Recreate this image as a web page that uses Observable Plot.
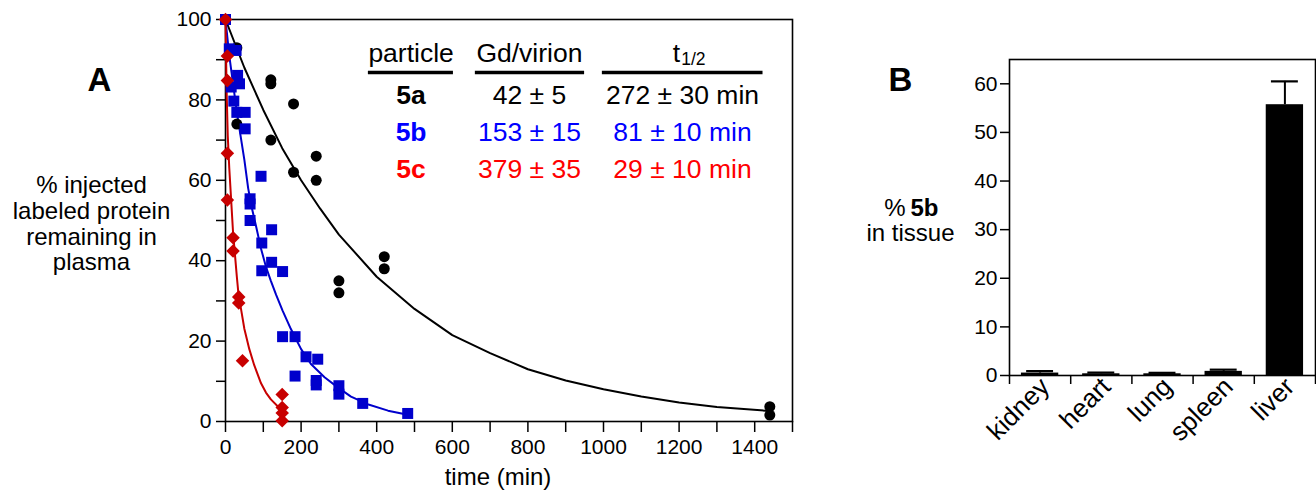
<!DOCTYPE html>
<html><head><meta charset="utf-8">
<script src="https://cdn.jsdelivr.net/npm/d3@7"></script>
<script src="https://cdn.jsdelivr.net/npm/@observablehq/plot@0.6"></script>
<style>
body{margin:0;background:#fff;}
#wrap{position:relative;width:1316px;height:491px;overflow:hidden;background:#fff;}
#a{position:absolute;left:0;top:0;}
#b{position:absolute;left:850px;top:0;}
</style></head><body><div id="wrap"><div id="a"></div><div id="b"></div></div>
<script>
// ---------- Panel A data ----------
// 5a (black circles)
const time5a = [0, 30, 30, 120, 120, 120, 180, 180, 240, 240, 300, 300, 420, 420, 1440, 1440];
const pct5a  = [100, 93, 74, 85, 84, 70, 79, 62, 66, 60, 35, 32, 41, 38, 3.7, 1.6];
// 5b (blue squares)
const time5b = [0, 10, 28, 32, 37, 15, 22, 30, 52, 52, 94, 65, 65, 65, 122, 96, 122, 96, 151, 151, 184, 213, 244, 184, 240, 240, 300, 300, 363, 482];
const pct5b  = [100, 92.7, 92.3, 86.1, 84.0, 83.2, 79.7, 76.9, 76.9, 72.8, 61.0, 55.4, 54.1, 50.0, 47.7, 44.4, 39.6, 37.5, 37.3, 21.1, 21.1, 16.1, 15.5, 11.3, 10.2, 9.1, 8.9, 6.8, 4.5, 2.0];
// 5c (red diamonds)
const time5c = [0, 5, 5, 5, 5, 20, 20, 35, 35, 45, 150, 150, 150, 150];
const pct5c  = [100, 90.9, 84.8, 66.7, 55.1, 45.7, 42.4, 31, 29.5, 15.1, 6.7, 3.5, 2.1, 0.2];
// fitted curves
const fitTime5a = [0, 50, 100, 150, 200, 250, 300, 400, 500, 600, 700, 800, 900, 1000, 1100, 1200, 1300, 1440];
const fitPct5a  = [100, 88, 77.5, 68, 60, 53, 46.5, 36, 28, 21.5, 17, 13, 10.2, 8, 6.2, 4.7, 3.6, 2.6];
const fitTime5b = [0, 10, 20, 30, 40, 50, 60, 70, 81, 94, 107, 120, 134, 151, 173, 200, 226, 262, 297, 332, 376, 430, 482];
const fitPct5b  = [100, 91, 84, 77, 71, 65, 58, 53, 48.5, 43, 38.5, 35, 31.5, 27.6, 23, 18, 14.3, 11, 8.5, 6.2, 4.3, 2.7, 1.7];
const fitTime5c = [0, 3, 6, 10, 15, 20, 25, 30, 35, 41, 50, 63, 76, 94, 107, 120, 138, 151];
const fitPct5c  = [100, 82, 71, 63, 55, 47, 41.5, 36, 31, 28, 23, 18, 14, 9.5, 7.2, 5.5, 3.8, 2.7];
const xTicksA = d3.range(0, 1501, 100);
const yTicksA = d3.range(0, 101, 10);
// table
const particles = ["5a", "5b", "5c"];
const gdPerVirion = ["42 ± 5", "153 ± 15", "379 ± 35"];
const halfLives = ["272 ± 30 min", "81 ± 10 min", "29 ± 10 min"];
const tableHeaders = ["particle", "Gd/virion"];

// ---------- Panel B data ----------
const tissues = ["kidney", "heart", "lung", "spleen", "liver"];
const tissuePct = [0.5, 0.35, 0.35, 0.85, 55.7];
const tissueErr = [0.4, 0.25, 0.2, 0.35, 4.8];
const yTicksB = d3.range(0, 61, 10);

// ---------- styles ----------
const FONT = '"Liberation Sans", Arial, Helvetica, sans-serif';
const C_BLACK = "#000000", C_BLUE = "#0000cc", C_RED = "#c80000";
const textColors = ["#000000", "#0000ff", "#ff0000"];
const TF = 26.5; // table font size

const zip = (xs, ys) => xs.map((x, i) => ({x, y: ys[i]}));
const d5a = zip(time5a, pct5a), d5b = zip(time5b, pct5b), d5c = zip(time5c, pct5c);
const f5a = zip(fitTime5a, fitPct5a), f5b = zip(fitTime5b, fitPct5b), f5c = zip(fitTime5c, fitPct5c);

// table layout (data units of panel A)
const colX = [491, 804, 1209];
const headerY = 91.5, ruleYv = 86.8, rowY0 = 81.1, rowStep = 9.2;
const underlines = [[378, 603], [661, 950], [997, 1422]];

const tableMarks = [];
tableHeaders.forEach((h, j) => tableMarks.push(
  Plot.text([h], {x: () => colX[j], y: () => headerY, fontSize: TF, fill: "black"})));
tableMarks.push(Plot.text(["t"], {x: () => 1203, y: () => headerY, textAnchor: "end", fontSize: TF, fill: "black"}));
tableMarks.push(Plot.text(["1/2"], {x: () => 1203, y: () => headerY, textAnchor: "start", dx: 1, dy: 6, fontSize: 17.5, fill: "black"}));
tableMarks.push(Plot.ruleY(underlines, {x1: d => d[0], x2: d => d[1], y: () => ruleYv, strokeWidth: 3.5, stroke: "black"}));
particles.forEach((p, i) => {
  const yy = rowY0 - i * rowStep;
  tableMarks.push(Plot.text([p], {x: () => colX[0], y: () => yy, fontSize: TF, fontWeight: "bold", fill: textColors[i]}));
  tableMarks.push(Plot.text([gdPerVirion[i]], {x: () => colX[1], y: () => yy, fontSize: TF, fill: textColors[i]}));
  tableMarks.push(Plot.text([halfLives[i]], {x: () => colX[2], y: () => yy, fontSize: TF, fill: textColors[i]}));
});

const plotA = Plot.plot({
  width: 830, height: 491,
  marginLeft: 225, marginRight: 38, marginTop: 19, marginBottom: 70,
  style: {fontFamily: FONT, fontSize: "21px", color: "black", background: "white", overflow: "visible"},
  x: {domain: [0, 1500]},
  y: {domain: [0, 100]},
  marks: [
    Plot.axisX({ticks: xTicksA, tickSize: 11, tickPadding: 7, strokeWidth: 1.5, fontSize: 21, label: null,
      tickFormat: d => (d % 200 === 0 ? String(d) : "")}),
    Plot.axisY({ticks: yTicksA, tickSize: 9, tickPadding: 5, strokeWidth: 1.5, fontSize: 21, label: null,
      tickFormat: d => (d % 20 === 0 ? String(d) : "")}),
    Plot.frame({stroke: "black", strokeWidth: 1.6}),
    Plot.line(f5a, {x: "x", y: "y", stroke: C_BLACK, strokeWidth: 2}),
    Plot.line(f5b, {x: "x", y: "y", stroke: C_BLUE, strokeWidth: 2}),
    Plot.line(f5c, {x: "x", y: "y", stroke: C_RED, strokeWidth: 2}),
    Plot.dot(d5a, {x: "x", y: "y", r: 5.5, fill: C_BLACK, stroke: "none"}),
    Plot.dot(d5b, {x: "x", y: "y", r: 6.2, symbol: "square", fill: C_BLUE, stroke: "none"}),
    Plot.dot(d5c, {x: "x", y: "y", r: 6.1, symbol: "diamond2", fill: C_RED, stroke: "none"}),
    ...tableMarks,
    Plot.text(["A"], {frameAnchor: "top-left", textAnchor: "middle", lineAnchor: "middle", dx: -126, dy: 61, fontSize: 33, fontWeight: "bold", fill: "black"}),
    Plot.text(["% injected\nlabeled protein\nremaining in\nplasma"], {frameAnchor: "left", dx: -134, dy: 3, fontSize: 24, lineHeight: 1.07, textAnchor: "middle", lineAnchor: "middle", fill: "black"}),
    Plot.text(["time (min)"], {frameAnchor: "bottom", textAnchor: "middle", lineAnchor: "middle", dx: -11, dy: 56, fontSize: 24, fill: "black"})
  ]
});
document.getElementById("a").appendChild(plotA);

// ---------- Panel B ----------
const dB = tissues.map((name, i) => ({i, name, v: tissuePct[i], e: tissueErr[i]}));
const plotB = Plot.plot({
  width: 466, height: 491,
  marginLeft: 159, marginRight: 1, marginTop: 59, marginBottom: 116,
  style: {fontFamily: FONT, fontSize: "21px", color: "black", background: "white", overflow: "visible"},
  x: {domain: [0, 5]},
  y: {domain: [0, 65]},
  marks: [
    Plot.axisX({ticks: [0, 1, 2, 3, 4, 5], tickSize: 9, strokeWidth: 1.5, label: null, tickFormat: () => ""}),
    Plot.axisY({ticks: yTicksB, tickSize: 9, tickPadding: 3, strokeWidth: 1.5, fontSize: 21, label: null}),
    Plot.ruleX(dB, {x: d => d.i + 0.5, y1: d => d.v, y2: d => d.v + d.e, stroke: "black", strokeWidth: 2}),
    Plot.ruleY(dB, {x1: d => d.i + 0.28, x2: d => d.i + 0.72, y: d => d.v + d.e, stroke: "black", strokeWidth: 2.2}),
    Plot.rectY(dB, {x1: d => d.i + 0.195, x2: d => d.i + 0.805, y: "v", fill: "black"}),
    Plot.frame({stroke: "black", strokeWidth: 1.6}),
    Plot.text(dB, {x: d => d.i + 0.5, frameAnchor: "bottom", text: "name", rotate: -45, textAnchor: "end", lineAnchor: "middle", dx: 5, dy: 7, fontSize: 26, fill: "black"}),
    Plot.text(["B"], {frameAnchor: "top-left", textAnchor: "middle", lineAnchor: "middle", dx: -109, dy: 21, fontSize: 33, fontWeight: "bold", fill: "black"}),
    Plot.text(["%"], {frameAnchor: "left", dx: -104, dy: -9, textAnchor: "end", lineAnchor: "middle", fontSize: 24, fill: "black"}),
    Plot.text(["5b"], {frameAnchor: "left", dx: -99, dy: -9, textAnchor: "start", lineAnchor: "middle", fontSize: 24, fontWeight: "bold", fill: "black"}),
    Plot.text(["in tissue"], {frameAnchor: "left", dx: -99, dy: 16, textAnchor: "middle", lineAnchor: "middle", fontSize: 24, fill: "black"})
  ]
});
document.getElementById("b").appendChild(plotB);
</script></body></html>
